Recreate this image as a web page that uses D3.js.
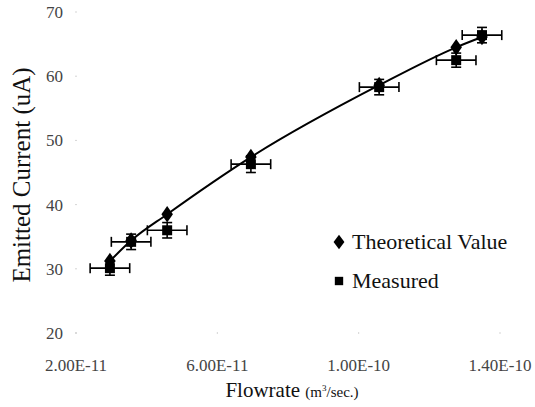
<!DOCTYPE html>
<head>
<meta charset="utf-8">
<title>Emitted current vs flowrate</title>
<style>
  body { margin: 0; background: #fff; }
  text { font-family: "Liberation Serif", "DejaVu Serif", serif; }
</style>
</head>
<body>
<script src="https://d3js.org/d3.v7.min.js"></script>
<script>
// flowrate (m3/sec) for each measurement point
const flowrate = [2.96e-11, 3.56e-11, 4.58e-11, 6.95e-11, 1.058e-10, 1.276e-10, 1.349e-10];
// emitted current (uA)
const theoretical = [31.2, 34.4, 38.5, 47.4, 58.6, 64.5, 66.1];
const measured = [30.1, 34.2, 36.0, 46.3, 58.3, 62.5, 66.4];
// error bars
const flowErr = 5.6e-12;
const currentErr = [1.1, 1.2, 1.2, 1.3, 1.2, 1.1, 1.2];

const xTicks = [2e-11, 6e-11, 1e-10, 1.4e-10];
const xTickLabels = ["2.00E-11", "6.00E-11", "1.00E-10", "1.40E-10"];
const yTicks = [20, 30, 40, 50, 60, 70];

let width = 535;
let height = 407;

let svg = d3.select("body").append("svg")
  .attr("width", width)
  .attr("height", height);

let x = d3.scaleLinear()
  .domain([2e-11, 1.4e-10])
  .range([76, 500]);

let y = d3.scaleLinear()
  .domain([20, 70])
  .range([333, 12]);

// faint tick dots (the axis lines are barely visible in the scan)
svg.selectAll(".ydot")
  .data(yTicks)
  .enter()
  .append("rect")
  .attr("class", "ydot")
  .attr("x", 75.5)
  .attr("y", d => y(d) - 0.5)
  .attr("width", 1)
  .attr("height", 1)
  .attr("fill", "#aaa");

svg.selectAll(".xdot")
  .data(xTicks)
  .enter()
  .append("rect")
  .attr("class", "xdot")
  .attr("x", d => x(d) - 0.5)
  .attr("y", 332.5)
  .attr("width", 1)
  .attr("height", 1)
  .attr("fill", "#aaa");

// tick labels
svg.selectAll(".ylabel")
  .data(yTicks)
  .enter()
  .append("text")
  .attr("class", "ylabel")
  .attr("x", 63)
  .attr("y", d => y(d))
  .attr("dy", "0.35em")
  .attr("text-anchor", "end")
  .style("font-size", "17px")
  .attr("fill", "#444")
  .text(d => d);

svg.selectAll(".xlabel")
  .data(xTicks)
  .enter()
  .append("text")
  .attr("class", "xlabel")
  .attr("x", d => x(d))
  .attr("y", 365)
  .attr("dy", "0.35em")
  .attr("text-anchor", "middle")
  .style("font-size", "17px")
  .attr("fill", "#444")
  .text((d, i) => xTickLabels[i]);

// axis titles
svg.append("text")
  .attr("transform", "translate(30," + 175 + ") rotate(-90)")
  .attr("text-anchor", "middle")
  .style("font-size", "25px")
  .attr("fill", "#111")
  .text("Emitted Current (uA)");

let xt = svg.append("text")
  .attr("x", 292)
  .attr("y", 397)
  .attr("text-anchor", "middle")
  .attr("fill", "#111");
xt.append("tspan").style("font-size", "21px").text("Flowrate ");
xt.append("tspan").style("font-size", "15px").text("(m");
xt.append("tspan").style("font-size", "9px").attr("dy", "-6").text("3");
xt.append("tspan").style("font-size", "15px").attr("dy", "6").text("/sec.)");

// theoretical curve
let pts = flowrate.map((d, i) => [d, theoretical[i]]);
let line = d3.line()
  .x(d => x(d[0]))
  .y(d => y(d[1]))
  .curve(d3.curveMonotoneX);

svg.append("path")
  .datum(pts)
  .attr("d", line)
  .attr("fill", "none")
  .attr("stroke", "#000")
  .attr("stroke-width", 2);

// error bars for measured points
let eb = svg.selectAll(".err")
  .data(flowrate)
  .enter()
  .append("g")
  .attr("class", "err")
  .attr("stroke", "#000")
  .attr("stroke-width", 1.6);

eb.append("line")
  .attr("x1", d => x(d - flowErr))
  .attr("x2", d => x(d + flowErr))
  .attr("y1", (d, i) => y(measured[i]))
  .attr("y2", (d, i) => y(measured[i]));
eb.append("line")
  .attr("x1", d => x(d - flowErr))
  .attr("x2", d => x(d - flowErr))
  .attr("y1", (d, i) => y(measured[i]) - 5)
  .attr("y2", (d, i) => y(measured[i]) + 5);
eb.append("line")
  .attr("x1", d => x(d + flowErr))
  .attr("x2", d => x(d + flowErr))
  .attr("y1", (d, i) => y(measured[i]) - 5)
  .attr("y2", (d, i) => y(measured[i]) + 5);
eb.append("line")
  .attr("x1", d => x(d))
  .attr("x2", d => x(d))
  .attr("y1", (d, i) => y(measured[i] - currentErr[i]))
  .attr("y2", (d, i) => y(measured[i] + currentErr[i]));
eb.append("line")
  .attr("x1", d => x(d) - 5)
  .attr("x2", d => x(d) + 5)
  .attr("y1", (d, i) => y(measured[i] - currentErr[i]))
  .attr("y2", (d, i) => y(measured[i] - currentErr[i]));
eb.append("line")
  .attr("x1", d => x(d) - 5)
  .attr("x2", d => x(d) + 5)
  .attr("y1", (d, i) => y(measured[i] + currentErr[i]))
  .attr("y2", (d, i) => y(measured[i] + currentErr[i]));

// markers
let diamond = d3.symbol().type(d3.symbolDiamond).size(80);
let square = d3.symbol().type(d3.symbolSquare).size(100);

svg.selectAll(".theo")
  .data(flowrate)
  .enter()
  .append("path")
  .attr("class", "theo")
  .attr("d", diamond)
  .attr("transform", (d, i) => "translate(" + x(d) + "," + y(theoretical[i]) + ") scale(1.2,1)")
  .attr("fill", "#000");

svg.selectAll(".meas")
  .data(flowrate)
  .enter()
  .append("path")
  .attr("class", "meas")
  .attr("d", square)
  .attr("transform", (d, i) => "translate(" + x(d) + "," + y(measured[i]) + ")")
  .attr("fill", "#000");

// legend
let legend = svg.append("g");
legend.append("path")
  .attr("d", d3.symbol().type(d3.symbolDiamond).size(60))
  .attr("transform", "translate(339,242) scale(1.3,1)")
  .attr("fill", "#000");
legend.append("text")
  .attr("x", 352)
  .attr("y", 249)
  .style("font-size", "22px")
  .attr("fill", "#111")
  .text("Theoretical Value");
legend.append("path")
  .attr("d", d3.symbol().type(d3.symbolSquare).size(70))
  .attr("transform", "translate(339,281)")
  .attr("fill", "#000");
legend.append("text")
  .attr("x", 352)
  .attr("y", 288)
  .style("font-size", "22px")
  .attr("fill", "#111")
  .text("Measured");
</script>
</body>
